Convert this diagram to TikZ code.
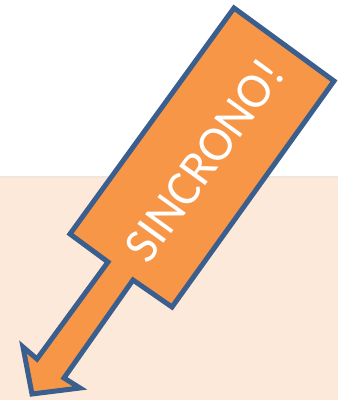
\documentclass[tikz,border=0pt]{standalone}
\usepackage{fontspec}
\setmainfont{Carlito}
\definecolor{peach}{HTML}{FDE9D9}
\definecolor{peachline}{HTML}{F0E6DE}
\definecolor{arrowfill}{HTML}{F79646}
\definecolor{arrowedge}{HTML}{3A5F8E}
\tikzset{
  callarrow/.style={fill=arrowfill, draw=arrowedge, line width=5pt, line join=miter, miter limit=10},
  calltext/.style={text=white, font=\fontsize{50}{50}\selectfont, inner sep=0pt}
}
\begin{document}
\begin{tikzpicture}[x=1pt,y=-1pt]
\useasboundingbox (0,0) rectangle (338,400);
\fill[peach] (0,177) rectangle (338,400);
\draw[peachline, line width=1.2pt] (0,177) -- (338,177);
\draw[callarrow]
  (234,8) -- (334,81) -- (172,307) -- (133,280) -- (64,378) -- (80,388)
  -- (32,394) -- (23,347) -- (37,359) -- (108,262) -- (70,234) -- cycle;
\node[calltext, rotate=54.2] (label) at (204,160) {SINCRONO!};
\end{tikzpicture}
\end{document}
